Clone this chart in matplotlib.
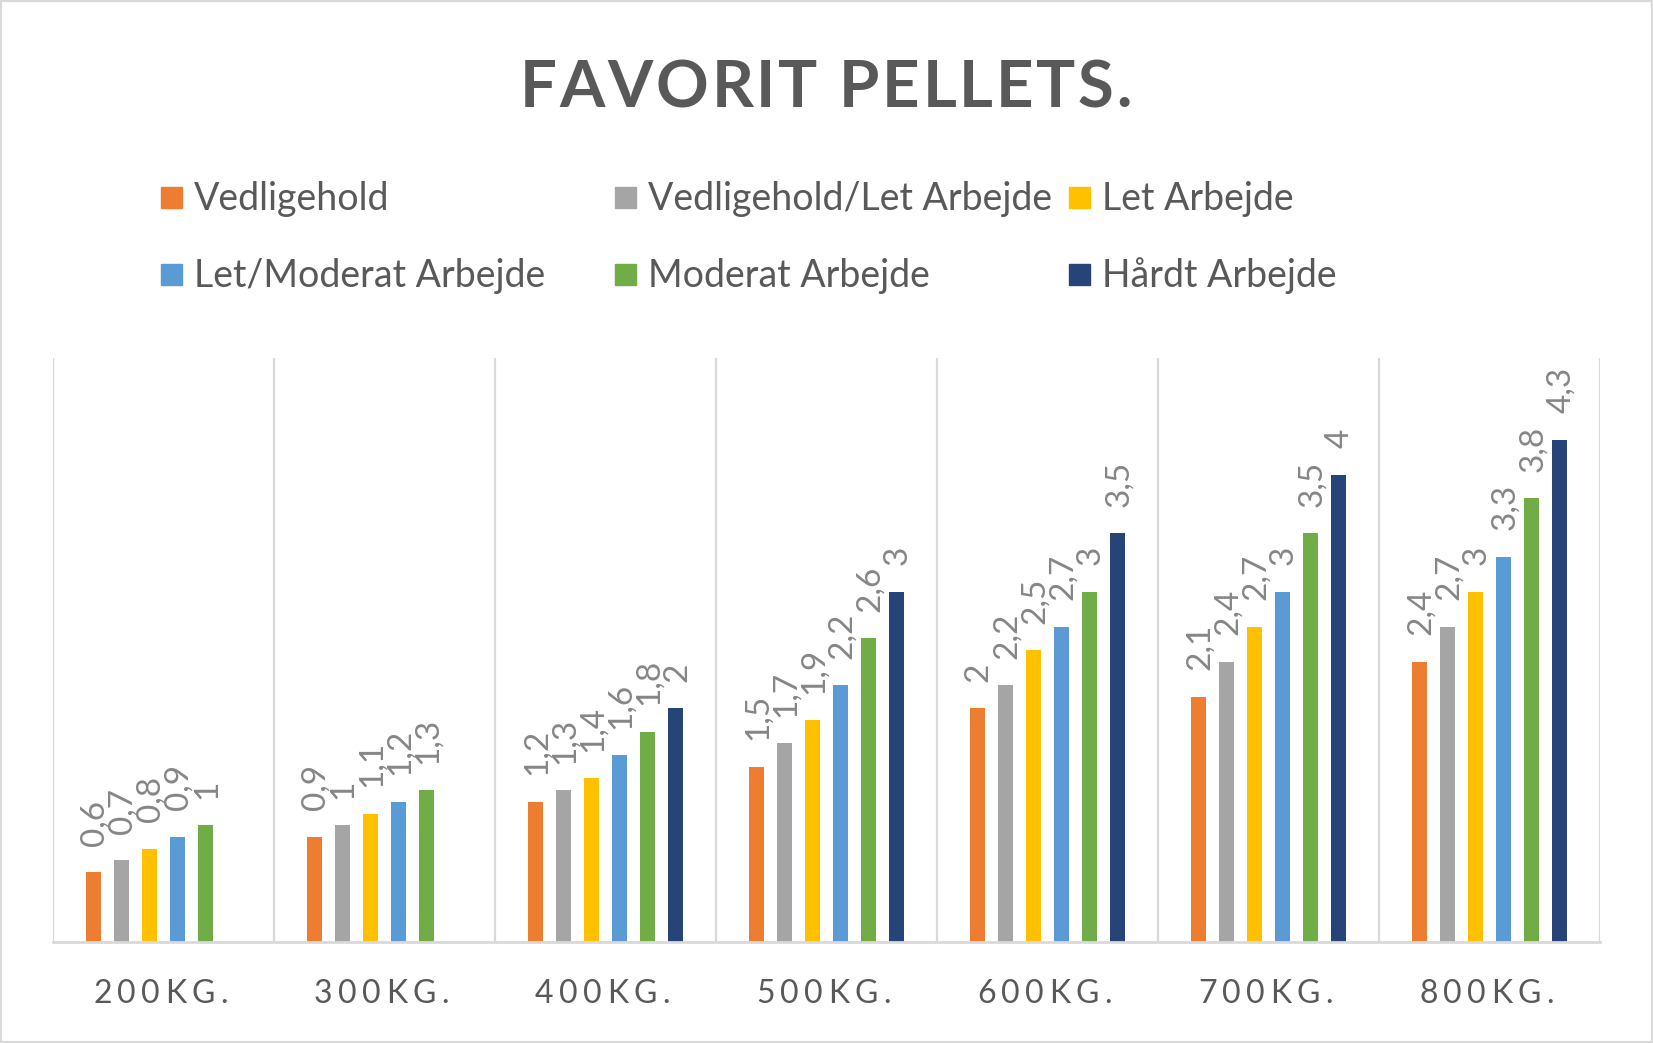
import matplotlib
matplotlib.use("Agg")
import matplotlib.pyplot as plt
import numpy as np
from matplotlib.font_manager import FontProperties, findfont
from matplotlib.ft2font import FT2Font
from matplotlib.patches import Rectangle

plt.rcParams['font.family'] = ['Lato', 'DejaVu Sans']

# Categories (weight of the horse)
categories = ["200KG.", "300KG.", "400KG.", "500KG.", "600KG.", "700KG.", "800KG."]

# Series (kg pellets per day)
series = ["Vedligehold", "Vedligehold/Let Arbejde", "Let Arbejde",
          "Let/Moderat Arbejde", "Moderat Arbejde", "Hårdt Arbejde"]
vedligehold = [0.6, 0.9, 1.2, 1.5, 2.0, 2.1, 2.4]
vedl_let = [0.7, 1.0, 1.3, 1.7, 2.2, 2.4, 2.7]
let_arb = [0.8, 1.1, 1.4, 1.9, 2.5, 2.7, 3.0]
let_mod = [0.9, 1.2, 1.6, 2.2, 2.7, 3.0, 3.3]
moderat = [1.0, 1.3, 1.8, 2.6, 3.0, 3.5, 3.8]
haardt = [np.nan, np.nan, 2.0, 3.0, 3.5, 4.0, 4.3]
values = [vedligehold, vedl_let, let_arb, let_mod, moderat, haardt]

colors = ['#ED7D31', '#A5A5A5', '#FFC000', '#5B9BD5', '#70AD47', '#264478']

W, H = 1653, 1043
fig = plt.figure(figsize=(W / 100, H / 100), dpi=100)
ax = fig.add_axes([53 / W, 1 - 942 / H, (1600 - 53) / W, (942 - 358) / H])

x = np.arange(len(categories))
step = 0.127
width = 0.068
for k, (name, vals, col) in enumerate(zip(series, values, colors)):
    pos = x + (k - 2.5) * step
    ax.bar(pos, vals, width=width, color=col, label=name)
    for px, v in zip(pos, vals):
        if np.isnan(v):
            continue
        ax.annotate(f"{v:g}".replace('.', ','), (px, v), xytext=(1, 19),
                    textcoords='offset points', rotation=90, ha='center',
                    va='bottom', fontsize=24, color='#868686')

ax.set_xlim(-0.5, len(categories) - 0.5)
ax.set_ylim(0, 5)
ax.set_yticks([])
ax.set_xticks([])
ax.set_xticks(np.arange(-0.5, len(categories)), minor=True)
ax.tick_params(which='both', length=0, labelbottom=False)
ax.grid(True, which='minor', axis='x', color='#D9D9D9', lw=1.6)
ax.set_axisbelow(True)
for s in ['top', 'left', 'right']:
    ax.spines[s].set_visible(False)
ax.spines['bottom'].set_color('#D9D9D9')
ax.spines['bottom'].set_linewidth(2)


def spaced_text(cx, y_top, s, size, weight, color, target_w):
    # draw a string letter by letter to get the wide letter spacing
    fp = FontProperties(family='Lato', weight=weight, size=size)
    ft = FT2Font(findfont(fp))
    ft.set_size(size, 100)
    adv = [ft.load_char(ord(c)).linearHoriAdvance / 65536 for c in s]
    track = (target_w - sum(adv)) / (len(s) - 1)
    xp = cx - target_w / 2
    for c, a in zip(s, adv):
        if c != ' ':
            fig.text((xp + a / 2) / W, 1 - y_top / H, c, ha='center',
                     va='baseline', fontproperties=fp, color=color)
        xp += a + track


# title
spaced_text(826, 107, "FAVORIT PELLETS.", 47, 'bold', '#595959', 612)

# category labels
for i, lab in enumerate(categories):
    cx = ax.transData.transform((i, 0))[0]
    spaced_text(cx - 3, 1003, lab, 23, 'normal', '#595959', 135)

# legend, three equal columns in two rows
for i, (name, col) in enumerate(zip(series, colors)):
    r, c = divmod(i, 3)
    mx = 161 + c * 454
    my = 197 + r * 77
    fig.patches.append(Rectangle((mx / W, 1 - (my + 10.5) / H), 21 / W, 21 / H,
                                 transform=fig.transFigure, color=col))
    fig.text((mx + 33) / W, 1 - (my + 13) / H, name, ha='left', va='baseline',
             fontsize=27, color='#595959')

# outer chart border
fig.patches.append(Rectangle((0, 0), 1, 1, transform=fig.transFigure,
                             fill=False, ec='#D9D9D9', lw=3))

fig.savefig('out.png', dpi=100)
